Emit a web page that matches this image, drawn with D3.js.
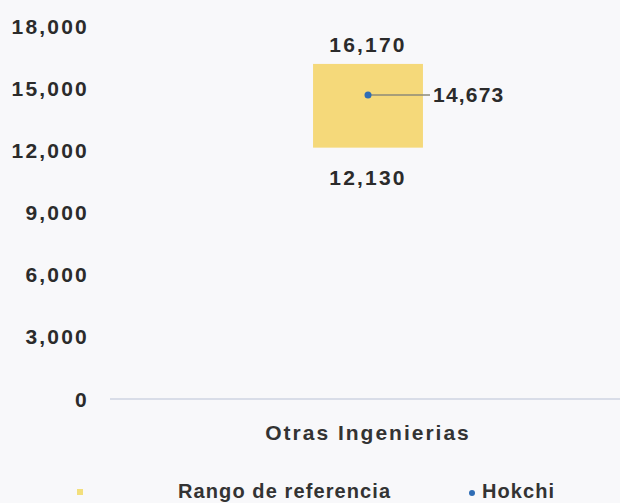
<!DOCTYPE html>
<html lang="es">
<head>
<meta charset="UTF-8">
<title>Rango de referencia</title>
<script src="https://cdn.jsdelivr.net/npm/d3@7"></script>
<style>
    body { margin: 0; background: #f8f8fa; }
    text { font-family: "Liberation Sans", Arial, sans-serif; fill: #2b2b2b; }
</style>
</head>
<body>
<div id="chart"></div>
<script>
// datos
const categories = ["Otras Ingenierias"];
const rangeLow = [12130];
const rangeHigh = [16170];
const hokchi = [14673];
const yTicks = [0, 3000, 6000, 9000, 12000, 15000, 18000];

const width = 620, height = 503;
const svg = d3.select("#chart").append("svg")
    .attr("width", width).attr("height", height)
    .style("background", "#f8f8fa");

const y = d3.scaleLinear().domain([0, 18000]).range([399, 26]);
const x = d3.scaleBand().domain(categories).range([110, 626]);
const fmt = d3.format(",");

// eje y (solo etiquetas)
svg.append("g").selectAll("text")
    .data(yTicks)
    .join("text")
    .attr("x", 89).attr("y", d => y(d))
    .attr("text-anchor", "end")
    .attr("dominant-baseline", "central")
    .style("font-size", "21px").style("font-weight", "bold")
    .style("letter-spacing", "2.2px")
    .text(d => fmt(d));

// linea base
svg.append("line")
    .attr("x1", 110).attr("x2", 620)
    .attr("y1", y(0)).attr("y2", y(0))
    .attr("stroke", "#cfd4e2").attr("stroke-width", 1.5);

// etiqueta categoria
svg.append("g").selectAll("text")
    .data(categories)
    .join("text")
    .attr("x", d => x(d) + x.bandwidth() / 2)
    .attr("y", 440)
    .attr("text-anchor", "middle")
    .style("font-size", "21px").style("font-weight", "bold")
    .style("letter-spacing", "2px")
    .style("fill", "#333")
    .text(d => d);

const rows = categories.map((c, i) => ({ c, lo: rangeLow[i], hi: rangeHigh[i], v: hokchi[i] }));
const boxW = x.bandwidth() * 0.213;

// rango de referencia
svg.append("g").selectAll("rect")
    .data(rows)
    .join("rect")
    .attr("x", d => x(d.c) + x.bandwidth() / 2 - boxW / 2)
    .attr("y", d => y(d.hi))
    .attr("width", boxW)
    .attr("height", d => y(d.lo) - y(d.hi))
    .attr("fill", "#f5d97a");

// etiquetas del rango
const lbl = svg.append("g");
rows.forEach(d => {
    const cx = x(d.c) + x.bandwidth() / 2;
    lbl.append("text")
        .attr("x", cx).attr("y", y(d.hi) - 19)
        .attr("text-anchor", "middle").attr("dominant-baseline", "central")
        .style("font-size", "21px").style("font-weight", "bold")
        .style("letter-spacing", "2.2px")
        .text(fmt(d.hi));
    lbl.append("text")
        .attr("x", cx).attr("y", y(d.lo) + 30)
        .attr("text-anchor", "middle").attr("dominant-baseline", "central")
        .style("font-size", "21px").style("font-weight", "bold")
        .style("letter-spacing", "2.2px")
        .text(fmt(d.lo));
    // Hokchi
    lbl.append("line")
        .attr("x1", cx).attr("x2", cx + 62)
        .attr("y1", y(d.v)).attr("y2", y(d.v))
        .attr("stroke", "#8c8a78").attr("stroke-width", 1.5);
    lbl.append("circle")
        .attr("cx", cx).attr("cy", y(d.v)).attr("r", 3.5)
        .attr("fill", "#2f6db5");
    lbl.append("text")
        .attr("x", cx + 65).attr("y", y(d.v))
        .attr("dominant-baseline", "central")
        .style("font-size", "21px").style("font-weight", "bold")
        .style("letter-spacing", "1.2px")
        .text(fmt(d.v));
});

// leyenda
const leg = svg.append("g");
leg.append("rect")
    .attr("x", 77).attr("y", 489).attr("width", 6).attr("height", 6)
    .attr("fill", "#f3df7c");
leg.append("text")
    .attr("x", 178).attr("y", 498)
    .style("font-size", "20px").style("font-weight", "bold")
    .style("letter-spacing", "1.1px").style("fill", "#333")
    .text("Rango de referencia");
leg.append("circle")
    .attr("cx", 472).attr("cy", 493).attr("r", 3)
    .attr("fill", "#2f6db5");
leg.append("text")
    .attr("x", 482).attr("y", 498)
    .style("font-size", "20px").style("font-weight", "bold")
    .style("letter-spacing", "1.1px").style("fill", "#333")
    .text("Hokchi");
</script>
</body>
</html>
